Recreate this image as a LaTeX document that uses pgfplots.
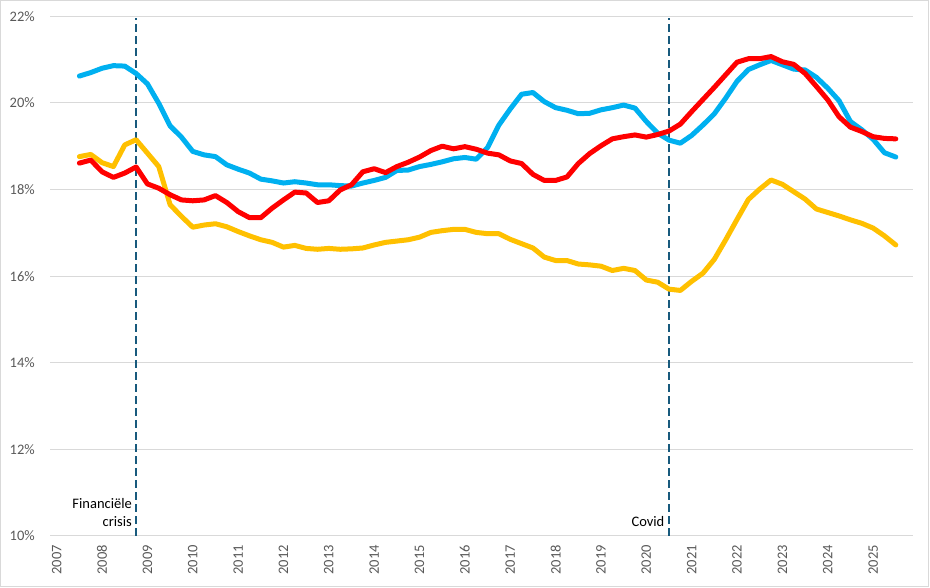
\documentclass[border=0pt]{standalone}
\usepackage{fontspec}
\setmainfont{Carlito}
\usepackage{pgfplots}
\pgfplotsset{compat=1.18}
\usepackage{pgfplotstable}
\definecolor{cblue}{RGB}{0,176,240}
\definecolor{cred}{RGB}{255,0,0}
\definecolor{cyellow}{RGB}{255,192,0}
\definecolor{dashc}{RGB}{24,90,125}
\definecolor{gridc}{RGB}{217,217,217}
\definecolor{tickc}{RGB}{89,89,89}

\pgfplotstableread{
x blue red yellow
2007.50 20.62 18.61 18.76
2007.75 20.70 18.68 18.81
2008.00 20.80 18.41 18.62
2008.25 20.86 18.28 18.53
2008.50 20.85 18.38 19.03
2008.75 20.68 18.52 19.15
2009.00 20.44 18.13 18.84
2009.25 19.99 18.03 18.53
2009.50 19.47 17.88 17.65
2009.75 19.21 17.76 17.38
2010.00 18.88 17.74 17.13
2010.25 18.80 17.76 17.18
2010.50 18.76 17.86 17.21
2010.75 18.57 17.70 17.14
2011.00 18.47 17.49 17.03
2011.25 18.38 17.35 16.93
2011.50 18.24 17.35 16.84
2011.75 18.20 17.57 16.78
2012.00 18.15 17.76 16.67
2012.25 18.18 17.94 16.71
2012.50 18.15 17.92 16.64
2012.75 18.11 17.70 16.62
2013.00 18.11 17.74 16.64
2013.25 18.09 17.99 16.62
2013.50 18.08 18.11 16.63
2013.75 18.15 18.41 16.65
2014.00 18.21 18.48 16.72
2014.25 18.28 18.39 16.78
2014.50 18.44 18.53 16.81
2014.75 18.45 18.63 16.84
2015.00 18.53 18.75 16.90
2015.25 18.58 18.90 17.01
2015.50 18.64 19.00 17.05
2015.75 18.71 18.94 17.08
2016.00 18.74 18.99 17.08
2016.25 18.70 18.93 17.01
2016.50 18.97 18.84 16.98
2016.75 19.49 18.80 16.98
2017.00 19.86 18.66 16.85
2017.25 20.20 18.60 16.75
2017.50 20.24 18.35 16.65
2017.75 20.03 18.21 16.44
2018.00 19.89 18.21 16.36
2018.25 19.83 18.29 16.36
2018.50 19.75 18.60 16.28
2018.75 19.76 18.83 16.26
2019.00 19.84 19.01 16.23
2019.25 19.89 19.17 16.13
2019.50 19.95 19.22 16.18
2019.75 19.88 19.26 16.13
2020.00 19.57 19.21 15.91
2020.25 19.30 19.27 15.86
2020.50 19.14 19.35 15.70
2020.75 19.07 19.51 15.67
2021.00 19.25 19.80 15.88
2021.25 19.49 20.08 16.07
2021.50 19.75 20.36 16.39
2021.75 20.11 20.65 16.84
2022.00 20.50 20.94 17.31
2022.25 20.77 21.02 17.77
2022.50 20.88 21.02 18.01
2022.75 20.98 21.07 18.22
2023.00 20.88 20.95 18.12
2023.25 20.78 20.89 17.95
2023.50 20.76 20.68 17.78
2023.75 20.59 20.38 17.55
2024.00 20.34 20.07 17.47
2024.25 20.05 19.68 17.39
2024.50 19.57 19.44 17.30
2024.75 19.38 19.34 17.22
2025.00 19.16 19.22 17.11
2025.25 18.85 19.18 16.93
2025.50 18.75 19.17 16.72
}\datatable

\begin{document}
\begin{tikzpicture}[x=1bp,y=1bp]
\useasboundingbox (0,0) rectangle (930,588);
\draw[gridc, line width=1bp] (0.5,1.5) rectangle (928.5,587.5);
\begin{axis}[
  at={(50bp,52bp)}, anchor=south west,
  scale only axis, width=863bp, height=519.7bp,
  xmin=2006.852, xmax=2025.88, ymin=10, ymax=22,
  axis line style={draw=none},
  tick style={draw=none},
  ymajorgrids,
  major grid style={draw=gridc, line width=1bp},
  xtick={2007,2008,...,2025},
  ytick={10,12,14,16,18,20,22},
  yticklabels={10\%,12\%,14\%,16\%,18\%,20\%,22\%},
  /pgf/number format/assume math mode=true,
  /pgf/number format/1000 sep={},
  every tick label/.append style={font=\fontsize{14.5bp}{17bp}\selectfont, text=tickc},
  xticklabel style={rotate=90, anchor=east, inner xsep=9bp},
  yticklabel style={anchor=east, inner xsep=0pt, xshift=-15bp},
  clip=false,
]
\addplot[dashc, line width=2bp, dash pattern=on 8bp off 4bp] coordinates {(2008.75,10) (2008.75,21.95)};
\addplot[dashc, line width=2bp, dash pattern=on 8bp off 4bp] coordinates {(2020.49,10) (2020.49,21.95)};
\addplot[cyellow, line width=5bp, line join=round, line cap=round] table[x=x,y=yellow] {\datatable};
\addplot[cblue, line width=5bp, line join=round, line cap=round] table[x=x,y=blue] {\datatable};
\addplot[cred, line width=5bp, line join=round, line cap=round] table[x=x,y=red] {\datatable};
\node[anchor=base east, inner sep=0pt, font=\fontsize{14.5bp}{17bp}\selectfont] at ([xshift=-4bp,yshift=27.5bp]axis cs:2008.75,10) {Financiële};
\node[anchor=base east, inner sep=0pt, font=\fontsize{14.5bp}{17bp}\selectfont] at ([xshift=-4bp,yshift=9bp]axis cs:2008.75,10) {crisis};
\node[anchor=base east, inner sep=0pt, font=\fontsize{14.5bp}{17bp}\selectfont] at ([xshift=-4bp,yshift=9bp]axis cs:2020.49,10) {Covid};
\end{axis}
\end{tikzpicture}
\end{document}
